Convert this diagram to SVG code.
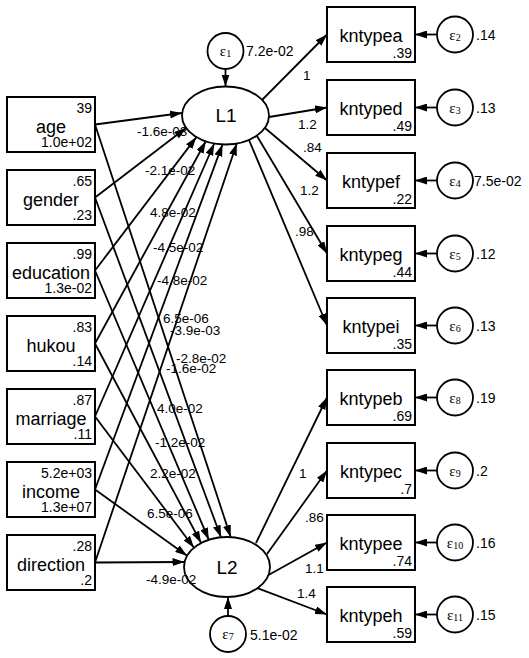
<svg xmlns="http://www.w3.org/2000/svg" width="529" height="658" viewBox="0 0 529 658">
<defs>
<marker id="ah" viewBox="0 0 12 8" refX="12" refY="4" markerWidth="12" markerHeight="8" markerUnits="userSpaceOnUse" orient="auto"><path d="M0,0 L12,4 L0,8 z" fill="#000"/></marker>
<style>
text{font-family:"Liberation Sans",Arial,sans-serif;fill:#000}
.box{fill:#fff;stroke:#000;stroke-width:2}
.lat{fill:#fff;stroke:#000;stroke-width:1.8}
.name{font-size:18px;text-anchor:middle}
.val{font-size:14px;text-anchor:end}
.lbl{font-size:13.5px}
.eps{font-family:"Liberation Serif","Times New Roman",serif;font-size:15px;text-anchor:middle}
.sub{font-size:10px}
.ln{stroke:#000;stroke-width:1.8;fill:none;marker-end:url(#ah)}
.lv{font-size:19px;text-anchor:middle}
</style>
</defs>
<rect width="529" height="658" fill="#fff"/>
<g id="connectors">
<line class="ln" x1="95" y1="124.5" x2="182" y2="113"/>
<line class="ln" x1="95" y1="197.5" x2="186" y2="128"/>
<line class="ln" x1="95" y1="270.5" x2="196.4" y2="137.1"/>
<line class="ln" x1="95" y1="343.5" x2="205.8" y2="141.3"/>
<line class="ln" x1="95" y1="416.5" x2="214.2" y2="143.5"/>
<line class="ln" x1="95" y1="489.5" x2="222.5" y2="144.4"/>
<line class="ln" x1="95" y1="562.5" x2="236.8" y2="143.5"/>
<line class="ln" x1="95" y1="124.5" x2="230.7" y2="537.1"/>
<line class="ln" x1="95" y1="197.5" x2="221" y2="537.3"/>
<line class="ln" x1="95" y1="270.5" x2="208.8" y2="539.8"/>
<line class="ln" x1="95" y1="343.5" x2="201.1" y2="543"/>
<line class="ln" x1="95" y1="416.5" x2="194" y2="547.7"/>
<line class="ln" x1="95" y1="489.5" x2="187.1" y2="555.8"/>
<line class="ln" x1="95" y1="562.5" x2="184.5" y2="562"/>
<line class="ln" x1="262" y1="100" x2="327" y2="34.5"/>
<line class="ln" x1="269" y1="117" x2="327" y2="107.5"/>
<line class="ln" x1="265" y1="128" x2="327" y2="180.5"/>
<line class="ln" x1="257" y1="136" x2="327" y2="253.5"/>
<line class="ln" x1="249" y1="140" x2="327" y2="325.5"/>
<line class="ln" x1="256" y1="543" x2="327" y2="397.5"/>
<line class="ln" x1="267" y1="554" x2="327" y2="470.5"/>
<line class="ln" x1="268.5" y1="575" x2="327" y2="542.5"/>
<line class="ln" x1="257.4" y1="588.2" x2="327" y2="614.5"/>
<line class="ln" x1="225.5" y1="69" x2="225.5" y2="86.5"/>
<line class="ln" x1="228" y1="616" x2="228" y2="597"/>
<line class="ln" x1="437" y1="34.5" x2="415" y2="34.5"/>
<line class="ln" x1="437" y1="107.5" x2="415" y2="107.5"/>
<line class="ln" x1="437" y1="180.5" x2="415" y2="180.5"/>
<line class="ln" x1="437" y1="253.5" x2="415" y2="253.5"/>
<line class="ln" x1="437" y1="325.5" x2="415" y2="325.5"/>
<line class="ln" x1="437" y1="397.5" x2="415" y2="397.5"/>
<line class="ln" x1="437" y1="470.5" x2="415" y2="470.5"/>
<line class="ln" x1="437" y1="542.5" x2="415" y2="542.5"/>
<line class="ln" x1="437" y1="614.5" x2="415" y2="614.5"/>
</g>
<g id="age"><rect class="box" x="7" y="97" width="88" height="55"/><text class="val" x="92" y="113">39</text><text class="name" x="51" y="133">age</text><text class="val" x="92" y="147">1.0e+02</text></g>
<g id="gender"><rect class="box" x="7" y="170" width="88" height="55"/><text class="val" x="92" y="186">.65</text><text class="name" x="51" y="206">gender</text><text class="val" x="92" y="220">.23</text></g>
<g id="education"><rect class="box" x="7" y="243" width="88" height="55"/><text class="val" x="92" y="259">.99</text><text class="name" x="51" y="279">education</text><text class="val" x="92" y="293">1.3e-02</text></g>
<g id="hukou"><rect class="box" x="7" y="316" width="88" height="55"/><text class="val" x="92" y="332">.83</text><text class="name" x="51" y="352">hukou</text><text class="val" x="92" y="366">.14</text></g>
<g id="marriage"><rect class="box" x="7" y="389" width="88" height="55"/><text class="val" x="92" y="405">.87</text><text class="name" x="51" y="425">marriage</text><text class="val" x="92" y="439">.11</text></g>
<g id="income"><rect class="box" x="7" y="462" width="88" height="55"/><text class="val" x="92" y="478">5.2e+03</text><text class="name" x="51" y="498">income</text><text class="val" x="92" y="512">1.3e+07</text></g>
<g id="direction"><rect class="box" x="7" y="535" width="88" height="55"/><text class="val" x="92" y="551">.28</text><text class="name" x="51" y="571">direction</text><text class="val" x="92" y="585">.2</text></g>
<g id="L1"><ellipse class="lat" cx="225.5" cy="115.5" rx="43.5" ry="29"/><text class="lv" x="226" y="122">L1</text></g>
<g id="L2"><ellipse class="lat" cx="227" cy="567" rx="43" ry="30"/><text class="lv" x="227" y="574">L2</text></g>
<g id="e1"><circle class="lat" cx="225.5" cy="51" r="18"/><text class="eps" x="225.5" y="56">ε<tspan class="sub" dy="1">1</tspan></text><text class="val" style="text-anchor:start" x="246" y="56">7.2e-02</text></g>
<g id="e7"><circle class="lat" cx="228" cy="634" r="18"/><text class="eps" x="228" y="639">ε<tspan class="sub" dy="1">7</tspan></text><text class="val" style="text-anchor:start" x="250" y="640">5.1e-02</text></g>
<g id="kntypea"><rect class="box" x="327" y="7" width="88" height="55"/><text class="name" x="371" y="42">kntypea</text><text class="val" x="412" y="58">.39</text></g>
<g id="kntyped"><rect class="box" x="327" y="80" width="88" height="55"/><text class="name" x="371" y="115">kntyped</text><text class="val" x="412" y="131">.49</text></g>
<g id="kntypef"><rect class="box" x="327" y="153" width="88" height="55"/><text class="name" x="371" y="188">kntypef</text><text class="val" x="412" y="204">.22</text></g>
<g id="kntypeg"><rect class="box" x="327" y="226" width="88" height="55"/><text class="name" x="371" y="261">kntypeg</text><text class="val" x="412" y="277">.44</text></g>
<g id="kntypei"><rect class="box" x="327" y="298" width="88" height="55"/><text class="name" x="371" y="333">kntypei</text><text class="val" x="412" y="349">.35</text></g>
<g id="kntypeb"><rect class="box" x="327" y="370" width="88" height="55"/><text class="name" x="371" y="405">kntypeb</text><text class="val" x="412" y="421">.69</text></g>
<g id="kntypec"><rect class="box" x="327" y="443" width="88" height="55"/><text class="name" x="371" y="478">kntypec</text><text class="val" x="412" y="494">.7</text></g>
<g id="kntypee"><rect class="box" x="327" y="515" width="88" height="55"/><text class="name" x="371" y="550">kntypee</text><text class="val" x="412" y="566">.74</text></g>
<g id="kntypeh"><rect class="box" x="327" y="587" width="88" height="55"/><text class="name" x="371" y="622">kntypeh</text><text class="val" x="412" y="638">.59</text></g>
<g id="e2"><circle class="lat" cx="455" cy="34.5" r="18"/><text class="eps" x="455" y="39.5">ε<tspan class="sub" dy="1">2</tspan></text><text class="val" style="text-anchor:start" x="476" y="40">.14</text></g>
<g id="e3"><circle class="lat" cx="455" cy="107.5" r="18"/><text class="eps" x="455" y="112.5">ε<tspan class="sub" dy="1">3</tspan></text><text class="val" style="text-anchor:start" x="476" y="113">.13</text></g>
<g id="e4"><circle class="lat" cx="455" cy="180.5" r="18"/><text class="eps" x="455" y="185.5">ε<tspan class="sub" dy="1">4</tspan></text><text class="val" style="text-anchor:start" x="474" y="186">7.5e-02</text></g>
<g id="e5"><circle class="lat" cx="455" cy="253.5" r="18"/><text class="eps" x="455" y="258.5">ε<tspan class="sub" dy="1">5</tspan></text><text class="val" style="text-anchor:start" x="476" y="259">.12</text></g>
<g id="e6"><circle class="lat" cx="455" cy="325.5" r="18"/><text class="eps" x="455" y="330.5">ε<tspan class="sub" dy="1">6</tspan></text><text class="val" style="text-anchor:start" x="476" y="331">.13</text></g>
<g id="e8"><circle class="lat" cx="455" cy="397.5" r="18"/><text class="eps" x="455" y="402.5">ε<tspan class="sub" dy="1">8</tspan></text><text class="val" style="text-anchor:start" x="476" y="403">.19</text></g>
<g id="e9"><circle class="lat" cx="455" cy="470.5" r="18"/><text class="eps" x="455" y="475.5">ε<tspan class="sub" dy="1">9</tspan></text><text class="val" style="text-anchor:start" x="476" y="476">.2</text></g>
<g id="e10"><circle class="lat" cx="455" cy="542.5" r="18"/><text class="eps" x="455" y="547.5">ε<tspan class="sub" dy="1">10</tspan></text><text class="val" style="text-anchor:start" x="476" y="548">.16</text></g>
<g id="e11"><circle class="lat" cx="455" cy="614.5" r="18"/><text class="eps" x="455" y="619.5">ε<tspan class="sub" dy="1">11</tspan></text><text class="val" style="text-anchor:start" x="476" y="620">.15</text></g>
<g id="path-labels">
<text class="lbl" x="137" y="136">-1.6e-03</text>
<text class="lbl" x="145" y="175">-2.1e-02</text>
<text class="lbl" x="150" y="217">4.8e-02</text>
<text class="lbl" x="153" y="252">-4.5e-02</text>
<text class="lbl" x="157" y="285">-4.8e-02</text>
<text class="lbl" x="163" y="323">6.5e-06</text>
<text class="lbl" x="170" y="335">-3.9e-03</text>
<text class="lbl" x="176" y="363">-2.8e-02</text>
<text class="lbl" x="166" y="373">-1.6e-02</text>
<text class="lbl" x="157" y="413">4.0e-02</text>
<text class="lbl" x="155" y="447">-1.2e-02</text>
<text class="lbl" x="150" y="478">2.2e-02</text>
<text class="lbl" x="147" y="518">6.5e-06</text>
<text class="lbl" x="146" y="584">-4.9e-02</text>
<text class="lbl" x="303" y="80">1</text>
<text class="lbl" x="298" y="129">1.2</text>
<text class="lbl" x="303" y="152">.84</text>
<text class="lbl" x="300" y="195">1.2</text>
<text class="lbl" x="295" y="236">.98</text>
<text class="lbl" x="299" y="478">1</text>
<text class="lbl" x="305" y="522">.86</text>
<text class="lbl" x="305" y="573">1.1</text>
<text class="lbl" x="297" y="598">1.4</text>
</g>
</svg>
